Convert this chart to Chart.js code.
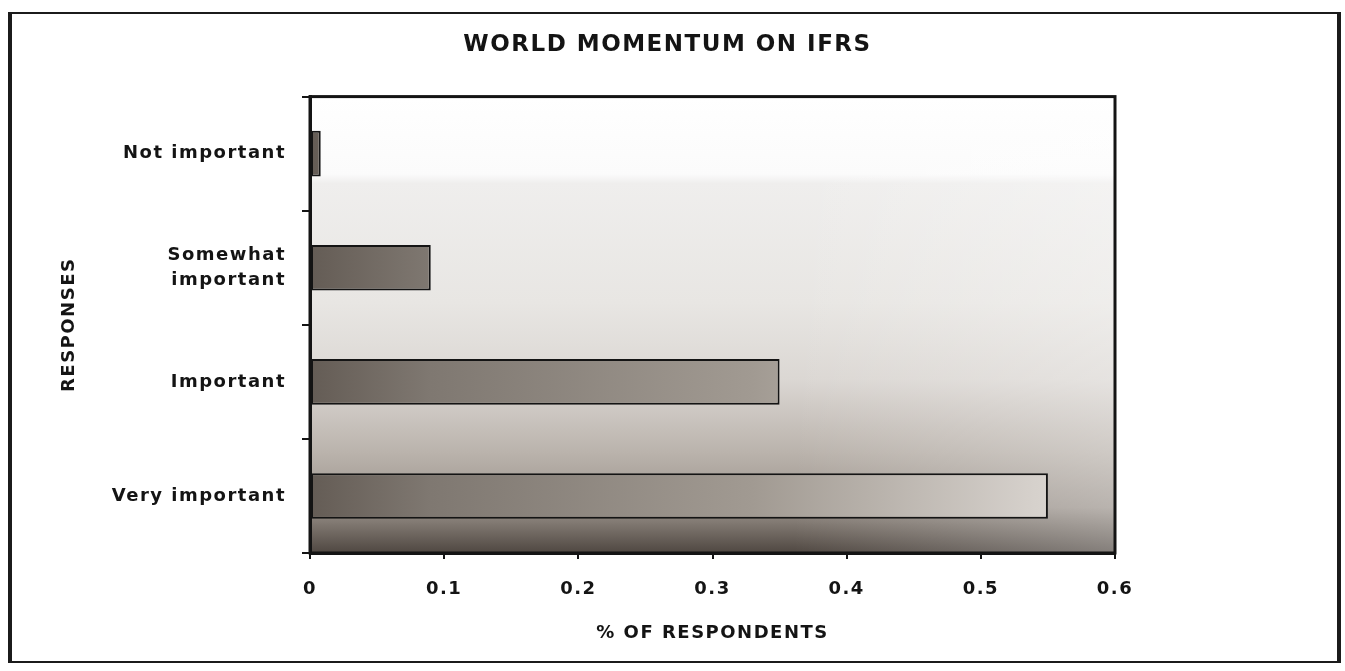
<!DOCTYPE html>
<html>
<head>
<meta charset="utf-8">
<script src="https://cdn.jsdelivr.net/npm/chart.js@4.4.1/dist/chart.umd.min.js"></script>
<style>
  html, body { margin: 0; padding: 0; background: #ffffff; }
  body { width: 1345px; height: 671px; position: relative; overflow: hidden; }
  #frame {
    position: absolute; left: 8px; top: 12px; width: 1325px; height: 647px;
    border-style: solid; border-color: #1b1b1b; border-width: 2px 4px 2px 4px;
  }
  #wrap { position: absolute; left: 0; top: 0; width: 1345px; height: 671px; }
</style>
</head>
<body>
<div id="frame"></div>
<div id="wrap"><canvas id="chart" width="1345" height="671"></canvas></div>
<script>
// Survey responses: how important is the worldwide move to IFRS
const categories = ['Not important', ['Somewhat', 'important'], 'Important', 'Very important'];
const shareOfRespondents = [0.008, 0.09, 0.35, 0.55];
const xTickLabels = ['0', '0.1', '0.2', '0.3', '0.4', '0.5', '0.6'];
const chartTitle = 'WORLD MOMENTUM ON IFRS';
const yAxisTitle = 'RESPONSES';
const xAxisTitle = '% OF RESPONDENTS';

const FONT = "'DejaVu Sans', 'Liberation Sans', sans-serif";
const INK = '#141414';

// Wide, slightly tracked lettering for every label on the canvas
const tracking = {
  id: 'tracking',
  beforeUpdate(chart) { chart.ctx.letterSpacing = '1.5px'; },
  beforeDraw(chart) { chart.ctx.letterSpacing = '1.5px'; }
};

// Shaded plot background: white at the top, darkening towards the base
const plotBackground = {
  id: 'plotBackground',
  beforeDraw(chart) {
    const { ctx, chartArea: a } = chart;
    if (!a) return;
    ctx.save();
    const v = ctx.createLinearGradient(0, a.top, 0, a.bottom);
    v.addColorStop(0.00, '#ffffff');
    v.addColorStop(0.17, '#fbfbfb');
    v.addColorStop(0.19, '#efeeed');
    v.addColorStop(0.45, '#e8e6e3');
    v.addColorStop(0.62, '#dbd7d3');
    v.addColorStop(0.78, '#bab3ac');
    v.addColorStop(0.90, '#9b938c');
    v.addColorStop(0.94, '#7c746d');
    v.addColorStop(1.00, '#4f4741');
    ctx.fillStyle = v;
    ctx.fillRect(a.left, a.top, a.width, a.height);
    const h = ctx.createLinearGradient(a.left, 0, a.right, 0);
    h.addColorStop(0.0, 'rgba(255,255,255,0)');
    h.addColorStop(0.6, 'rgba(255,255,255,0)');
    h.addColorStop(1.0, 'rgba(255,255,255,0.3)');
    ctx.fillStyle = h;
    ctx.fillRect(a.left, a.top, a.width, a.height);
    ctx.restore();
  }
};

// Heavy frame around the plot area
const plotFrame = {
  id: 'plotFrame',
  afterDraw(chart) {
    const { ctx, chartArea: a } = chart;
    ctx.save();
    ctx.strokeStyle = INK;
    ctx.lineWidth = 3;
    ctx.strokeRect(a.left, a.top, a.width, a.height);
    ctx.restore();
  }
};

function barFill(context) {
  const chart = context.chart;
  const xs = chart.scales.x;
  if (!chart.chartArea || !xs) return '#9a928b';
  const g = chart.ctx.createLinearGradient(xs.getPixelForValue(0), 0, xs.getPixelForValue(0.6), 0);
  g.addColorStop(0.00, '#645c55');
  g.addColorStop(0.15, '#7f7871');
  g.addColorStop(0.55, '#a19a92');
  g.addColorStop(0.90, '#d6d1cc');
  g.addColorStop(1.00, '#e2ded9');
  return g;
}

new Chart(document.getElementById('chart'), {
  type: 'bar',
  data: {
    labels: categories,
    datasets: [{
      data: shareOfRespondents,
      backgroundColor: barFill,
      borderColor: INK,
      borderWidth: 2,
      borderSkipped: false,
      barPercentage: 0.4,
      categoryPercentage: 1.0
    }]
  },
  options: {
    indexAxis: 'y',
    responsive: false,
    devicePixelRatio: 1,
    animation: false,
    layout: { padding: { left: 10, right: 20, top: 0, bottom: 20 } },
    plugins: {
      legend: { display: false },
      tooltip: { enabled: false },
      title: {
        display: true,
        text: chartTitle,
        color: INK,
        font: { family: FONT, size: 23, weight: 'bold' },
        padding: { top: 31, bottom: 38 }
      }
    },
    scales: {
      x: {
        type: 'linear',
        min: 0,
        max: 0.6,
        afterFit(scale) { scale.height = 98; },
        ticks: {
          stepSize: 0.1,
          color: INK,
          padding: 20,
          font: { family: FONT, size: 18, weight: 'bold' },
          callback: (v) => xTickLabels[Math.round(v * 10)]
        },
        grid: { drawOnChartArea: false, drawTicks: true, tickLength: 6, color: INK, lineWidth: 2 },
        border: { display: true, color: INK, width: 3 },
        title: {
          display: true,
          text: xAxisTitle,
          color: INK,
          font: { family: FONT, size: 18, weight: 'bold' },
          padding: { top: 0, bottom: 7 }
        }
      },
      y: {
        type: 'category',
        position: 'left',
        afterFit(scale) { scale.width = 300; },
        ticks: {
          color: INK,
          padding: 16,
          font: { family: FONT, size: 18, weight: 'bold', lineHeight: 1.35 }
        },
        grid: { display: true, drawOnChartArea: false, drawTicks: true, tickLength: 8, color: INK, lineWidth: 2, offset: true },
        border: { display: true, color: INK, width: 3 },
        title: {
          display: true,
          text: yAxisTitle,
          color: INK,
          font: { family: FONT, size: 18, weight: 'bold' },
          padding: { top: 49, bottom: 0 }
        }
      },
      // empty right-hand margin beside the plot
      margin: {
        type: 'category',
        position: 'right',
        afterFit(scale) { scale.width = 210; },
        ticks: { display: false },
        grid: { display: false },
        border: { display: false }
      }
    }
  },
  plugins: [tracking, plotBackground, plotFrame]
});
</script>
</body>
</html>
